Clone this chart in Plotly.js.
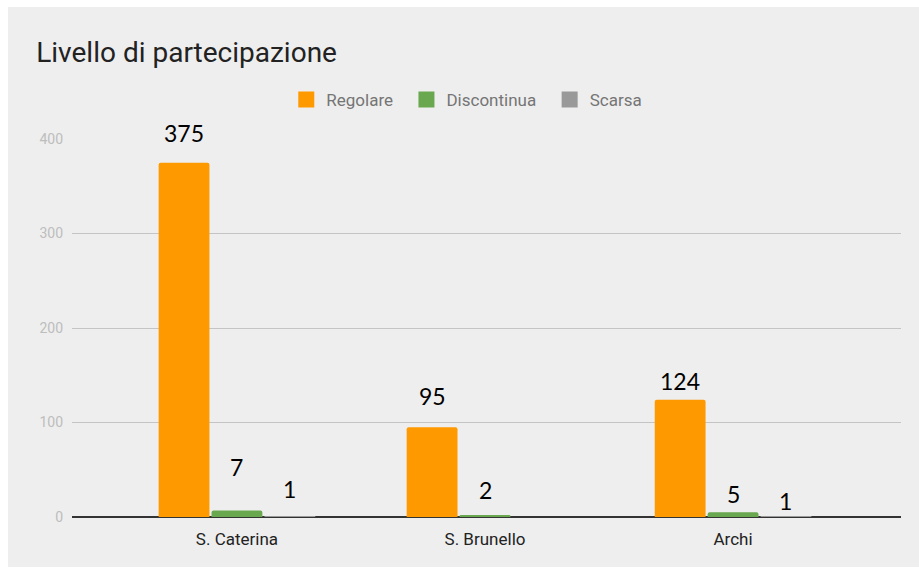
<!DOCTYPE html>
<html>
<head>
<meta charset="utf-8">
<script src="https://cdn.plot.ly/plotly-3.0.1.min.js"></script>
<style>
  html, body { margin: 0; padding: 0; background: #ffffff; }
  #chart { position: absolute; left: 8px; top: 7px; width: 911px; height: 560px; }
</style>
</head>
<body>
<div id="chart"></div>
<script>
// data
var sedi = ['S. Caterina', 'S. Brunello', 'Archi'];
var regolare = [375, 95, 124];
var discontinua = [7, 2, 5];
var scarsa = [1, null, 1];

var serieNomi = ['Regolare', 'Discontinua', 'Scarsa'];
var colori = ['#ff9900', '#6aa84f', '#999999'];

// how far (px) each hand-placed value label sits above its bar
var spostaEtichette = [
  [30, 31, 19],
  [43, 25, 18],
  [27, 0, 15]
];

var bargap = 0.36;
var serie = [regolare, discontinua, scarsa];

var data = serie.map(function (vals, i) {
  return {
    type: 'bar',
    name: serieNomi[i],
    x: sedi,
    y: vals,
    marker: { color: colori[i], cornerradius: 2 },
    showlegend: false,
    hoverinfo: 'x+y+name'
  };
});

// legend entries only (bigger square swatches than the bar legend gives)
serieNomi.forEach(function (nome, i) {
  data.push({
    type: 'scatter',
    mode: 'markers',
    name: nome + '\u00a0\u00a0',
    x: [null],
    y: [null],
    marker: { symbol: 'square', size: 16, color: colori[i] },
    hoverinfo: 'skip'
  });
});

// value labels above the bars, shifted to the bar's slot inside its group
var slot = (1 - bargap) / serie.length;
var annotations = [];
serie.forEach(function (vals, i) {
  vals.forEach(function (v, j) {
    if (v === null) return;
    annotations.push({
      x: j + (i - (serie.length - 1) / 2) * slot,
      y: v,
      xref: 'x', yref: 'y',
      text: String(v),
      showarrow: false,
      yanchor: 'middle',
      yshift: spostaEtichette[i][j],
      font: { family: 'Lato, sans-serif', size: 23, color: '#000000' }
    });
  });
});

var layout = {
  width: 911,
  height: 560,
  paper_bgcolor: '#eeeeee',
  plot_bgcolor: '#eeeeee',
  margin: { l: 64, r: 18, t: 132, b: 50 },
  font: { family: 'Roboto, sans-serif' },
  title: {
    text: 'Livello di partecipazione',
    xref: 'container', yref: 'container',
    x: 0.031, xanchor: 'left',
    y: 0.92, yanchor: 'middle',
    font: { family: 'Roboto, sans-serif', size: 28, color: '#222222' }
  },
  showlegend: true,
  legend: {
    orientation: 'h',
    xref: 'container', yref: 'container',
    x: 0.508, xanchor: 'center',
    y: 0.834, yanchor: 'middle',
    itemwidth: 30,
    font: { family: 'Roboto, sans-serif', size: 17, color: '#757575' },
    bgcolor: 'rgba(0,0,0,0)',
    itemclick: false
  },
  barmode: 'group',
  bargap: bargap,
  bargroupgap: 0.04,
  xaxis: {
    type: 'category',
    range: [-0.665, 2.677],
    showgrid: false,
    showline: false,
    zeroline: false,
    ticks: '',
    ticklabelstandoff: 10,
    tickfont: { family: 'Roboto, sans-serif', size: 17, color: '#222222' },
    fixedrange: true
  },
  yaxis: {
    range: [0, 400],
    tickvals: [0, 100, 200, 300, 400],
    showgrid: true,
    gridcolor: '#c4c4c4',
    gridwidth: 1,
    zeroline: true,
    zerolinecolor: '#333333',
    zerolinewidth: 1.5,
    showline: false,
    ticks: '',
    ticklabelstandoff: 8,
    tickfont: { family: 'Roboto, sans-serif', size: 14, color: '#bdbdbd' },
    fixedrange: true
  },
  annotations: annotations
};

Plotly.newPlot('chart', data, layout, { displayModeBar: false });
</script>
</body>
</html>
